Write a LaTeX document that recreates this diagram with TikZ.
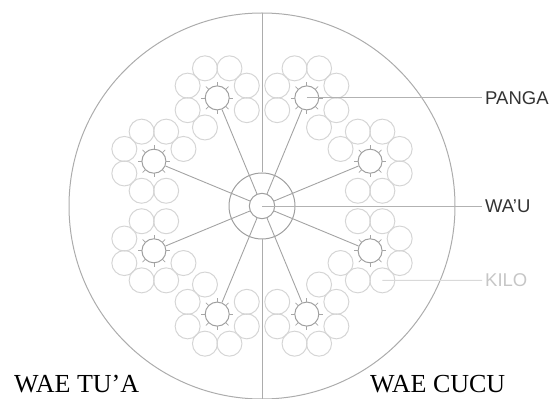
\documentclass[tikz,border=0pt]{standalone}
\usepackage{fontspec}
\setmainfont{Liberation Serif}
\setsansfont{Liberation Sans}
\usetikzlibrary{calc}

\begin{document}
\begin{tikzpicture}[
    x=1pt, y=1pt,
    rim/.style={draw=gray!65, line width=1pt},
    kilo/.style={draw=gray!33, line width=1pt},
    panga/.style={circle, draw=gray!75, fill=white, line width=1pt, minimum size=24pt, inner sep=0pt},
    wauhub/.style={circle, draw=gray!75, line width=1pt, inner sep=0pt},
    spoke/.style={draw=gray!72, line width=0.9pt},
    tick/.style={draw=gray!70, line width=0.7pt},
    lead/.style={draw=gray!60, line width=0.9pt},
    tag/.style={anchor=west, inner sep=3pt, font=\sffamily\fontsize{18.5}{20}\selectfont, text=black!80},
    side/.style={anchor=base west, inner sep=0pt, font=\fontsize{26}{28}\selectfont}
]
\useasboundingbox (0,0) rectangle (555,399);

% panga, round the hub
\node[panga] (panga1) at (370.1,237.8) {};
\node[panga] (panga2) at (306.8,301.1) {};
\node[panga] (panga3) at (217.2,301.1) {};
\node[panga] (panga4) at (153.9,237.8) {};
\node[panga] (panga5) at (153.9,148.2) {};
\node[panga] (panga6) at (217.2,84.9) {};
\node[panga] (panga7) at (306.8,84.9) {};
\node[panga] (panga8) at (370.1,148.2) {};

% kilo, seven round each panga
\foreach \p/\a in {panga1/22.5, panga2/67.5, panga3/112.5, panga4/157.5,
                   panga5/202.5, panga6/247.5, panga7/292.5, panga8/337.5}
  \foreach \k in {1,...,7}
    \draw[kilo] (\p.center) ++({\a+180+45*\k}:32) circle[radius=12.5];

% rim and axis
\draw[rim] (262,193) circle[radius=193];
\node[wauhub, minimum size=66pt] (wauring) at (262,193) {};
\node[wauhub, minimum size=25.4pt] (wau) at (262,193) {};
\coordinate (axtop) at (262,386);
\coordinate (axbot) at (262,0);
\draw[rim] (axtop) -- (wauring.north);
\draw[rim] (wauring.south) -- (axbot);

\draw[spoke] (wau) -- (panga1);
\draw[spoke] (wau) -- (panga2);
\draw[spoke] (wau) -- (panga3);
\draw[spoke] (wau) -- (panga4);
\draw[spoke] (wau) -- (panga5);
\draw[spoke] (wau) -- (panga6);
\draw[spoke] (wau) -- (panga7);
\draw[spoke] (wau) -- (panga8);

\foreach \p in {panga1,panga2,panga3,panga4,panga5,panga6,panga7,panga8}
  \foreach \t in {0,45,...,315}
    \draw[tick] (\p.center) ++(\t:12) -- ++(\t:4);

% labels
\coordinate (kilomark) at ($(panga8)+(-67.5:32)$);
\node[tag] (pangatag) at (482,301.1) {PANGA};
\node[tag] (wautag) at (482,193) {WA’U};
\node[tag, text=gray!45] (kilotag) at (482,118.6) {KILO};
\draw[lead] (panga2.center) -- (pangatag.west);
\draw[lead] (wau.center) -- (wautag.west);
\draw[lead, draw=gray!30] (kilomark) -- (kilotag.west);

\node[side] (tua) at (14,6) {WAE TU’A};
\node[side] (cucu) at (370,6) {WAE CUCU};
\end{tikzpicture}
\end{document}
